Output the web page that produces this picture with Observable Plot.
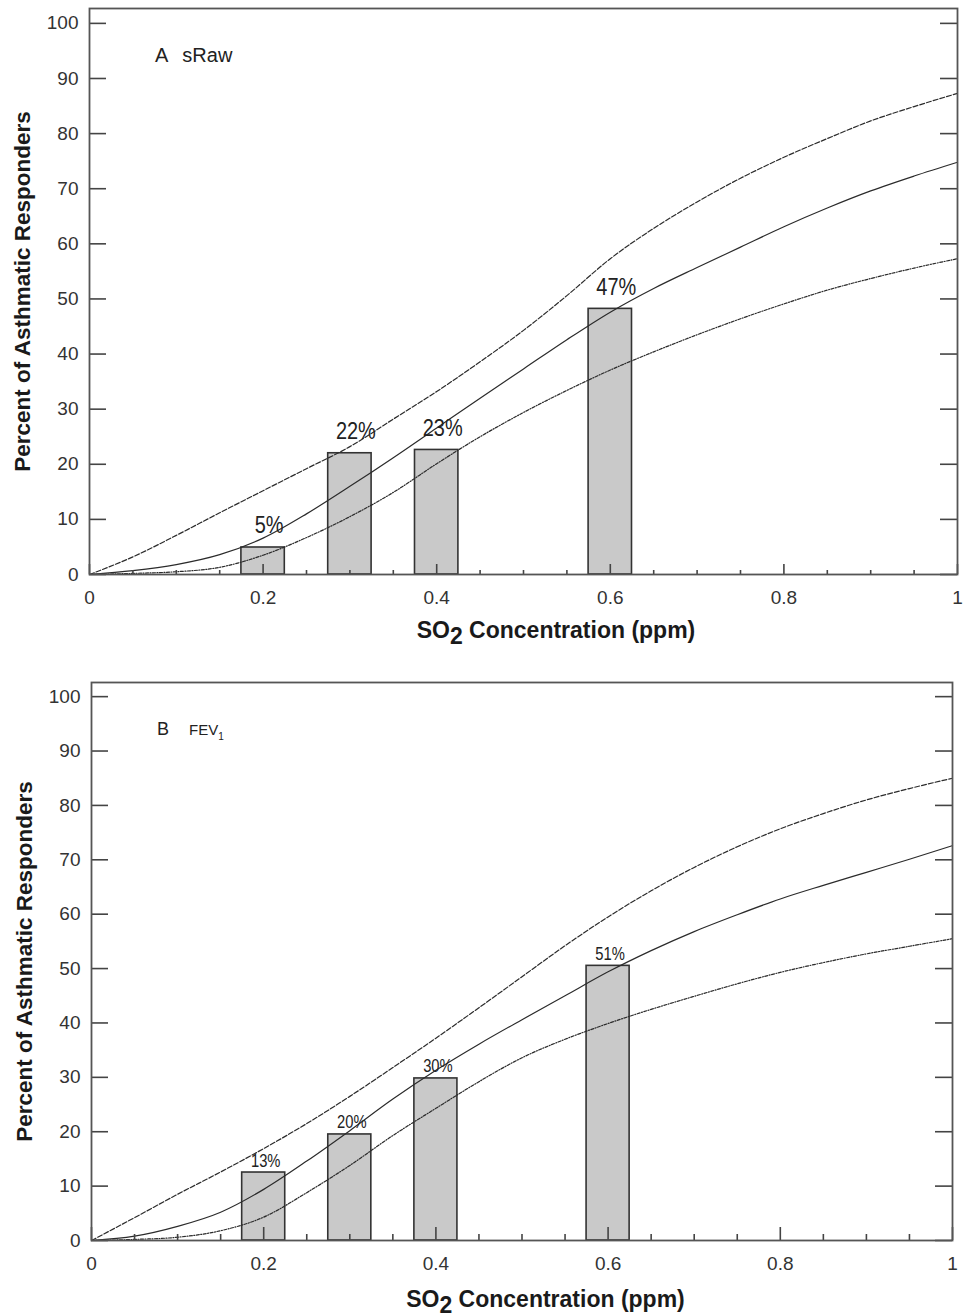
<!DOCTYPE html>
<html>
<head>
<meta charset="utf-8">
<script src="https://cdn.jsdelivr.net/npm/d3@7"></script>
<script src="https://cdn.jsdelivr.net/npm/@observablehq/plot@0.6"></script>
<style>
  html, body { margin: 0; padding: 0; background: #fff; }
  #chart svg { display: block; }
</style>
</head>
<body>
<div id="chart"></div>
<script>
// ---------- data ----------
const conc = [0, 0.05, 0.1, 0.15, 0.2, 0.25, 0.3, 0.35, 0.4, 0.45, 0.5, 0.55, 0.6, 0.65, 0.7, 0.75, 0.8, 0.85, 0.9, 0.95, 1];

// Panel A (sRaw)
const upperA = [0, 3.2, 7.1, 11.2, 15.2, 19.2, 23.2, 28.2, 33.2, 38.6, 44.3, 50.6, 57.3, 62.8, 67.6, 71.9, 75.7, 79.1, 82.3, 84.9, 87.3];
const midA   = [0, 0.7, 1.8, 3.6, 6.6, 11.0, 16.0, 21.2, 26.6, 32.0, 37.3, 42.6, 47.6, 51.9, 55.7, 59.4, 63.1, 66.5, 69.6, 72.3, 74.8];
const lowerA = [0, 0.2, 0.5, 1.3, 3.5, 6.7, 10.5, 14.9, 20.1, 25.0, 29.4, 33.4, 37.1, 40.4, 43.5, 46.4, 49.1, 51.6, 53.7, 55.6, 57.3];

// Panel B (FEV1)
const upperB = [0, 4.2, 8.5, 12.6, 16.9, 21.5, 26.5, 31.8, 37.2, 42.8, 48.5, 54.2, 59.5, 64.3, 68.6, 72.4, 75.7, 78.5, 81.0, 83.1, 85.0];
const midB   = [0, 0.8, 2.6, 5.2, 9.4, 14.6, 20.2, 26.0, 31.3, 36.1, 40.6, 45.0, 49.4, 53.3, 56.8, 59.9, 62.8, 65.3, 67.7, 70.1, 72.6];
const lowerB = [0, 0.2, 0.6, 1.8, 4.3, 8.8, 13.8, 19.3, 24.3, 29.2, 33.6, 37.0, 39.9, 42.5, 44.9, 47.2, 49.3, 51.1, 52.7, 54.1, 55.5];

// Bars (observed responders)
const barConc = [0.2, 0.3, 0.4, 0.6];
const barsA = [4.9, 22.0, 22.6, 48.2];
const labelsA = ["5%", "22%", "23%", "47%"];
const barsB = [12.5, 19.5, 29.8, 50.5];
const labelsB = ["13%", "20%", "30%", "51%"];

// Ticks and text
const yTicks = [0, 10, 20, 30, 40, 50, 60, 70, 80, 90, 100];
const xLabelTicks = [0, 0.2, 0.4, 0.6, 0.8, 1];
const xMinorTicks = [0.05, 0.1, 0.15, 0.25, 0.3, 0.35, 0.45, 0.5, 0.55, 0.65, 0.7, 0.75, 0.85, 0.9, 0.95];
const yTitle = "Percent of Asthmatic Responders";
const xTitleParts = ["SO", "2", " Concentration (ppm)"];

// ---------- drawing ----------
const W = 965;
const FONT = "'Liberation Sans', Arial, Helvetica, sans-serif";
const barHalf = 0.025;

function drawPanel(cfg) {
  const innerW = W - cfg.ml - cfg.mr;
  const innerH = cfg.height - cfg.mt - cfg.mb;
  const curves = conc.map((x, i) => ({x, upper: cfg.upper[i], mid: cfg.mid[i], lower: cfg.lower[i]}));
  const bars = barConc.map((x, i) => ({x, v: cfg.bars[i], label: cfg.labels[i]}));
  const lineBase = {x: "x", curve: "monotone-x", stroke: "#2b2b2b", strokeWidth: 1.2};
  const tickStyle = {stroke: "#444", strokeWidth: 1.6};

  const svg = Plot.plot({
    width: W,
    height: cfg.height,
    marginTop: cfg.mt, marginRight: cfg.mr, marginBottom: cfg.mb, marginLeft: cfg.ml,
    style: {fontFamily: FONT, fontSize: "19px", color: "#333", background: "#fff", overflow: "visible"},
    x: {domain: [0, 1], ticks: xLabelTicks, tickFormat: d => String(d), tickSize: 0, tickPadding: 16, label: null},
    y: {domain: [0, cfg.ymax], ticks: yTicks, tickSize: 0, tickPadding: 11, label: null},
    marks: [
      Plot.rectY(bars, {x1: d => d.x - barHalf, x2: d => d.x + barHalf, y1: 0, y2: "v", fill: "#c9c9c9", stroke: "#333", strokeWidth: 1.6}),
      Plot.line(curves, {...lineBase, y: "upper", strokeDasharray: "5,2"}),
      Plot.line(curves, {...lineBase, y: "mid"}),
      Plot.line(curves, {...lineBase, y: "lower", strokeDasharray: "3,1.5,1,1.5"}),
      Plot.text(bars, {x: "x", y: "v", text: "label", lineAnchor: "bottom", dy: cfg.labelDy, dx: cfg.labelDx,
        fontSize: cfg.labelSize, fill: "#222"}),
      Plot.tickY(yTicks, {y: d => d, insetRight: innerW - 17, ...tickStyle}),
      Plot.tickY(yTicks, {y: d => d, insetLeft: innerW - 17, ...tickStyle}),
      Plot.tickX(xMinorTicks, {x: d => d, insetTop: innerH - cfg.minorLen, ...tickStyle}),
      Plot.tickX(xLabelTicks, {x: d => d, insetTop: innerH - cfg.majorLen, ...tickStyle}),
      Plot.frame({stroke: "#555", strokeWidth: 1.8}),
      Plot.text([yTitle], {text: d => d, frameAnchor: "left", rotate: -90, dx: -cfg.yTitleOff, lineAnchor: "middle",
        textAnchor: "middle", fontWeight: "bold", fontSize: 22.5, fill: "#1a1a1a"})
    ]
  });

  const root = d3.select(svg);
  // x-axis title with subscript
  const xt = root.append("text")
    .attr("x", cfg.ml + innerW / 2 + cfg.xTitleShift)
    .attr("y", cfg.height - cfg.mb + cfg.xTitleOff)
    .attr("text-anchor", "middle")
    .attr("font-family", FONT)
    .attr("font-weight", "bold")
    .attr("font-size", 23)
    .attr("fill", "#1a1a1a");
  xt.append("tspan").text(xTitleParts[0]);
  xt.append("tspan").attr("dy", 6).text(xTitleParts[1]);
  xt.append("tspan").attr("dy", -6).text(xTitleParts[2]);

  // panel label
  const pl = root.append("text")
    .attr("x", cfg.ml + 66)
    .attr("y", cfg.mt + cfg.panelDy)
    .attr("text-anchor", "start")
    .attr("font-family", FONT)
    .attr("fill", "#222");
  cfg.panelLabel(pl);

  document.getElementById("chart").appendChild(svg);

  // condense the bar labels horizontally (the original uses a narrow face)
  root.selectAll("text").filter(function () {
    return cfg.labels.includes(this.textContent) && !this.querySelector("tspan");
  }).each(function () {
    const len = this.getComputedTextLength();
    if (len > 0) {
      d3.select(this).attr("textLength", len * cfg.labelSqueeze).attr("lengthAdjust", "spacingAndGlyphs");
    }
  });
}

drawPanel({
  height: 658, mt: 8, mb: 84, ml: 89, mr: 8, ymax: 102.7,
  upper: upperA, mid: midA, lower: lowerA, bars: barsA, labels: labelsA,
  labelDy: -14, labelDx: 6, labelSize: 24, labelSqueeze: 0.83, minorLen: 4, majorLen: 10,
  yTitleOff: 67, xTitleOff: 64, xTitleShift: 33, panelDy: 54,
  panelLabel: t => {
    t.append("tspan").attr("font-size", 20).text("A");
    t.append("tspan").attr("dx", 14).attr("font-size", 20).text("sRaw");
  }
});

drawPanel({
  height: 658, mt: 24, mb: 76, ml: 91, mr: 13, ymax: 102.6,
  upper: upperB, mid: midB, lower: lowerB, bars: barsB, labels: labelsB,
  labelDy: -6, labelDx: 2, labelSize: 18, labelSqueeze: 0.82, minorLen: 6, majorLen: 13,
  yTitleOff: 67, xTitleOff: 67, xTitleShift: 24, panelDy: 53,
  panelLabel: t => {
    t.append("tspan").attr("font-size", 18).text("B");
    t.append("tspan").attr("dx", 20).attr("font-size", 15).text("FEV");
    t.append("tspan").attr("dy", 5).attr("font-size", 10).text("1");
  }
});
</script>
</body>
</html>
